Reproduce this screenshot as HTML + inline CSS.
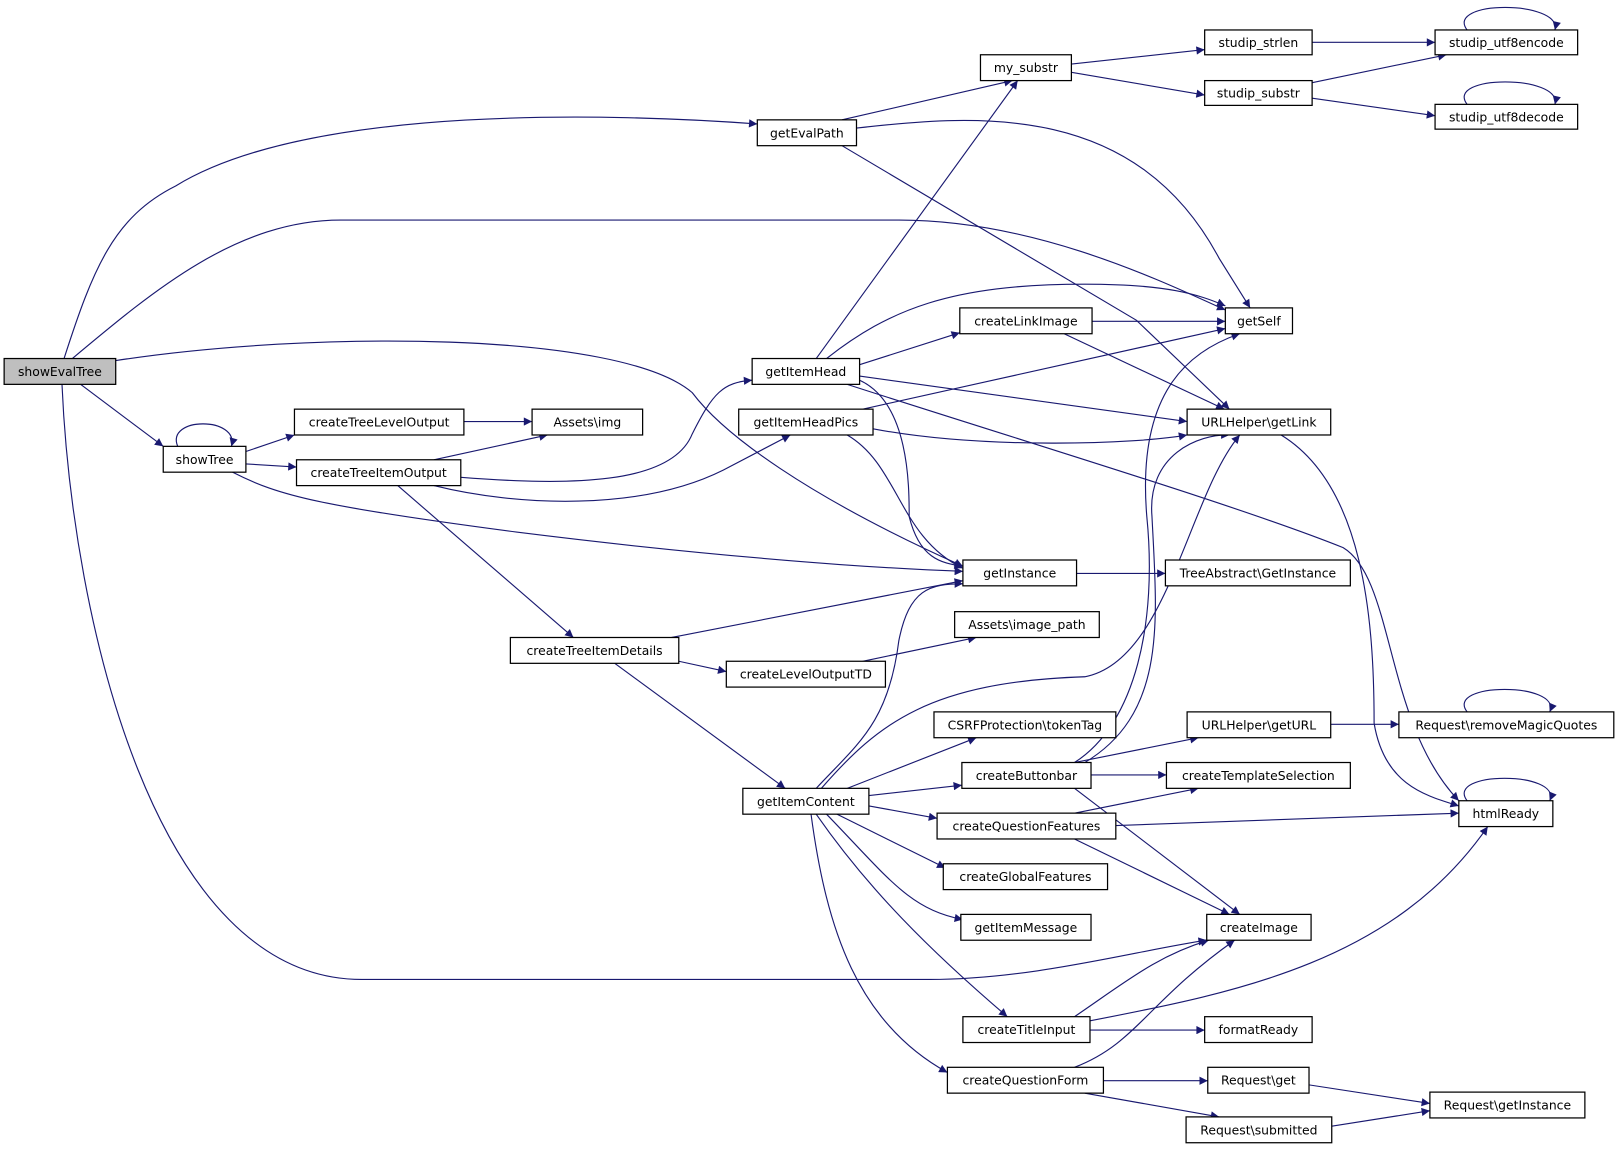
<!DOCTYPE html>
<html><head><meta charset="utf-8"><style>
html,body{margin:0;padding:0;background:#fff;}
svg{display:block;}
text{font-family:"DejaVu Sans","Liberation Sans",sans-serif;font-size:12px;fill:#000;text-anchor:middle;dominant-baseline:central;}
.n{fill:#fff;stroke:#000;stroke-width:1.2;}
.e{fill:none;stroke:#191970;stroke-width:1.1;marker-end:url(#a);}
</style></head><body>
<svg width="1620" height="1151" viewBox="0 0 1568 1114" preserveAspectRatio="none" xmlns="http://www.w3.org/2000/svg">
<defs><marker id="a" viewBox="0 0 10 10" refX="10" refY="5" markerWidth="10" markerHeight="8" markerUnits="userSpaceOnUse" orient="auto"><path d="M0,0 L10,5 L0,10 z" fill="#191970"/></marker></defs>
<g>
<path class="e" d="M62,347 C90,260 110,210 170,180 C300,100 600,110 733,120"/>
<path class="e" d="M70,347 C150,280 230,213 330,213 L870,213 C1000,213 1120,270 1186,300"/>
<path class="e" d="M112,349 C300,320 600,320 670,380 C700,420 780,480 932,548"/>
<path class="e" d="M78,372 L158,432"/>
<path class="e" d="M60,372 C70,600 150,948 350,948 L900,948 C1000,948 1100,920 1168,910"/>
<path class="e" d="M172,432 C160,403 232,403 224,432"/>
<path class="e" d="M238,437 L285,421"/>
<path class="e" d="M238,449 L287,452"/>
<path class="e" d="M225,457 C270,480 310,490 500,515 C700,540 850,550 932,553"/>
<path class="e" d="M449,408 L515,408"/>
<path class="e" d="M420,445 L530,421"/>
<path class="e" d="M446,462 C550,470 650,470 670,420 C690,380 700,370 728,368"/>
<path class="e" d="M420,470 C500,490 620,495 700,455 L765,421"/>
<path class="e" d="M385,470 L555,617"/>
<path class="e" d="M815,116 L980,78"/>
<path class="e" d="M829,124 C950,110 1100,100 1180,250 L1210,298"/>
<path class="e" d="M815,141 L1100,310 L1190,396"/>
<path class="e" d="M1037,62 L1166,48"/>
<path class="e" d="M1037,70 L1166,92"/>
<path class="e" d="M1270,41 L1389,41"/>
<path class="e" d="M1270,80 L1400,53"/>
<path class="e" d="M1270,95 L1389,112"/>
<path class="e" d="M1420,29 C1398,0 1512,0 1505,29"/>
<path class="e" d="M1420,101 C1398,72 1512,72 1505,101"/>
<path class="e" d="M790,347 L985,78"/>
<path class="e" d="M800,347 C860,300 920,275 1050,275 C1130,275 1160,285 1186,296"/>
<path class="e" d="M832,353 L929,322"/>
<path class="e" d="M832,364 L1149,408"/>
<path class="e" d="M832,368 C880,390 880,470 880,500 C890,540 910,545 932,548"/>
<path class="e" d="M820,372 C1000,430 1200,490 1300,530 C1350,560 1340,700 1412,775"/>
<path class="e" d="M1057,311 L1186,311"/>
<path class="e" d="M1030,323 L1185,396"/>
<path class="e" d="M835,396 L1186,318"/>
<path class="e" d="M845,415 C950,435 1100,430 1149,421"/>
<path class="e" d="M820,421 C870,450 870,520 932,550"/>
<path class="e" d="M1240,421 C1320,470 1330,600 1330,700 C1340,760 1380,770 1412,780"/>
<path class="e" d="M1042,555 L1128,555"/>
<path class="e" d="M650,617 L932,562"/>
<path class="e" d="M657,640 L703,650"/>
<path class="e" d="M595,642 L760,763"/>
<path class="e" d="M835,640 L945,617"/>
<path class="e" d="M790,763 C830,720 860,700 870,620 C880,570 900,565 932,565"/>
<path class="e" d="M795,763 C850,700 900,660 1050,655 C1130,640 1150,480 1200,421"/>
<path class="e" d="M820,763 L945,714"/>
<path class="e" d="M841,770 L931,760"/>
<path class="e" d="M841,780 L907,792"/>
<path class="e" d="M810,788 L915,840"/>
<path class="e" d="M800,788 C860,850 880,880 932,890"/>
<path class="e" d="M790,788 C840,860 900,920 975,984"/>
<path class="e" d="M785,788 C800,900 830,990 917,1038"/>
<path class="e" d="M1040,738 C1100,700 1120,600 1110,500 C1100,380 1150,340 1200,323"/>
<path class="e" d="M1050,738 C1130,690 1120,600 1115,500 C1110,440 1160,420 1190,421"/>
<path class="e" d="M1040,738 L1160,714"/>
<path class="e" d="M1056,750 L1129,750"/>
<path class="e" d="M1040,763 L1200,885"/>
<path class="e" d="M1288,701 L1354,701"/>
<path class="e" d="M1420,689 C1398,660 1512,660 1500,689"/>
<path class="e" d="M1040,787 L1160,763"/>
<path class="e" d="M1080,799 L1412,787"/>
<path class="e" d="M1040,812 L1190,885"/>
<path class="e" d="M1420,775 C1398,746 1512,746 1500,775"/>
<path class="e" d="M1040,984 C1090,950 1120,925 1170,910"/>
<path class="e" d="M1055,988 C1200,960 1350,930 1440,800"/>
<path class="e" d="M1055,997 L1166,997"/>
<path class="e" d="M1040,1033 C1100,1010 1110,970 1195,910"/>
<path class="e" d="M1068,1046 L1169,1046"/>
<path class="e" d="M1050,1058 L1180,1081"/>
<path class="e" d="M1267,1050 L1384,1068"/>
<path class="e" d="M1289,1090 L1384,1075"/>
</g>
<g>
<rect x="4" y="347" width="108" height="25" fill="#bfbfbf" stroke="#000" stroke-width="1.2"/><text x="58" y="359.5">showEvalTree</text>
<rect class="n" x="158" y="432" width="80" height="25"/><text x="198" y="444.5">showTree</text>
<rect class="n" x="285" y="396" width="164" height="25"/><text x="367" y="408.5">createTreeLevelOutput</text>
<rect class="n" x="287" y="445" width="159" height="25"/><text x="366.5" y="457.5">createTreeItemOutput</text>
<rect class="n" x="515" y="396" width="107" height="25"/><text x="568.5" y="408.5">Assets\img</text>
<rect class="n" x="733" y="116" width="96" height="25"/><text x="781" y="128.5">getEvalPath</text>
<rect class="n" x="949" y="53" width="88" height="25"/><text x="993" y="65.5">my_substr</text>
<rect class="n" x="1166" y="29" width="104" height="24"/><text x="1218" y="41">studip_strlen</text>
<rect class="n" x="1166" y="78" width="104" height="24"/><text x="1218" y="90">studip_substr</text>
<rect class="n" x="1389" y="29" width="138" height="24"/><text x="1458" y="41">studip_utf8encode</text>
<rect class="n" x="1389" y="101" width="138" height="24"/><text x="1458" y="113">studip_utf8decode</text>
<rect class="n" x="1186" y="298" width="65" height="25"/><text x="1218.5" y="310.5">getSelf</text>
<rect class="n" x="929" y="298" width="128" height="25"/><text x="993" y="310.5">createLinkImage</text>
<rect class="n" x="728" y="347" width="104" height="25"/><text x="780" y="359.5">getItemHead</text>
<rect class="n" x="715" y="396" width="130" height="25"/><text x="780" y="408.5">getItemHeadPics</text>
<rect class="n" x="1149" y="396" width="139" height="25"/><text x="1218.5" y="408.5">URLHelper\getLink</text>
<rect class="n" x="932" y="542" width="110" height="25"/><text x="987" y="554.5">getInstance</text>
<rect class="n" x="1128" y="542" width="179" height="25"/><text x="1217.5" y="554.5">TreeAbstract\GetInstance</text>
<rect class="n" x="494" y="617" width="163" height="25"/><text x="575.5" y="629.5">createTreeItemDetails</text>
<rect class="n" x="924" y="592" width="140" height="25"/><text x="994" y="604.5">Assets\image_path</text>
<rect class="n" x="703" y="640" width="154" height="25"/><text x="780" y="652.5">createLevelOutputTD</text>
<rect class="n" x="904" y="689" width="176" height="25"/><text x="992" y="701.5">CSRFProtection\tokenTag</text>
<rect class="n" x="1149" y="689" width="139" height="25"/><text x="1218.5" y="701.5">URLHelper\getURL</text>
<rect class="n" x="1354" y="689" width="208" height="25"/><text x="1458" y="701.5">Request\removeMagicQuotes</text>
<rect class="n" x="931" y="738" width="125" height="25"/><text x="993.5" y="750.5">createButtonbar</text>
<rect class="n" x="1129" y="738" width="178" height="25"/><text x="1218" y="750.5">createTemplateSelection</text>
<rect class="n" x="719" y="763" width="122" height="25"/><text x="780" y="775.5">getItemContent</text>
<rect class="n" x="907" y="787" width="173" height="25"/><text x="993.5" y="799.5">createQuestionFeatures</text>
<rect class="n" x="1412" y="775" width="91" height="25"/><text x="1457.5" y="787.5">htmlReady</text>
<rect class="n" x="913" y="836" width="159" height="25"/><text x="992.5" y="848.5">createGlobalFeatures</text>
<rect class="n" x="930" y="885" width="126" height="25"/><text x="993" y="897.5">getItemMessage</text>
<rect class="n" x="1168" y="885" width="101" height="25"/><text x="1218.5" y="897.5">createImage</text>
<rect class="n" x="932" y="984" width="123" height="25"/><text x="993.5" y="996.5">createTitleInput</text>
<rect class="n" x="1166" y="984" width="104" height="25"/><text x="1218" y="996.5">formatReady</text>
<rect class="n" x="917" y="1033" width="151" height="25"/><text x="992.5" y="1045.5">createQuestionForm</text>
<rect class="n" x="1169" y="1033" width="98" height="25"/><text x="1218" y="1045.5">Request\get</text>
<rect class="n" x="1384" y="1057" width="150" height="25"/><text x="1459" y="1069.5">Request\getInstance</text>
<rect class="n" x="1148" y="1081" width="141" height="25"/><text x="1218.5" y="1093.5">Request\submitted</text>
</g>
</svg>
</body></html>
